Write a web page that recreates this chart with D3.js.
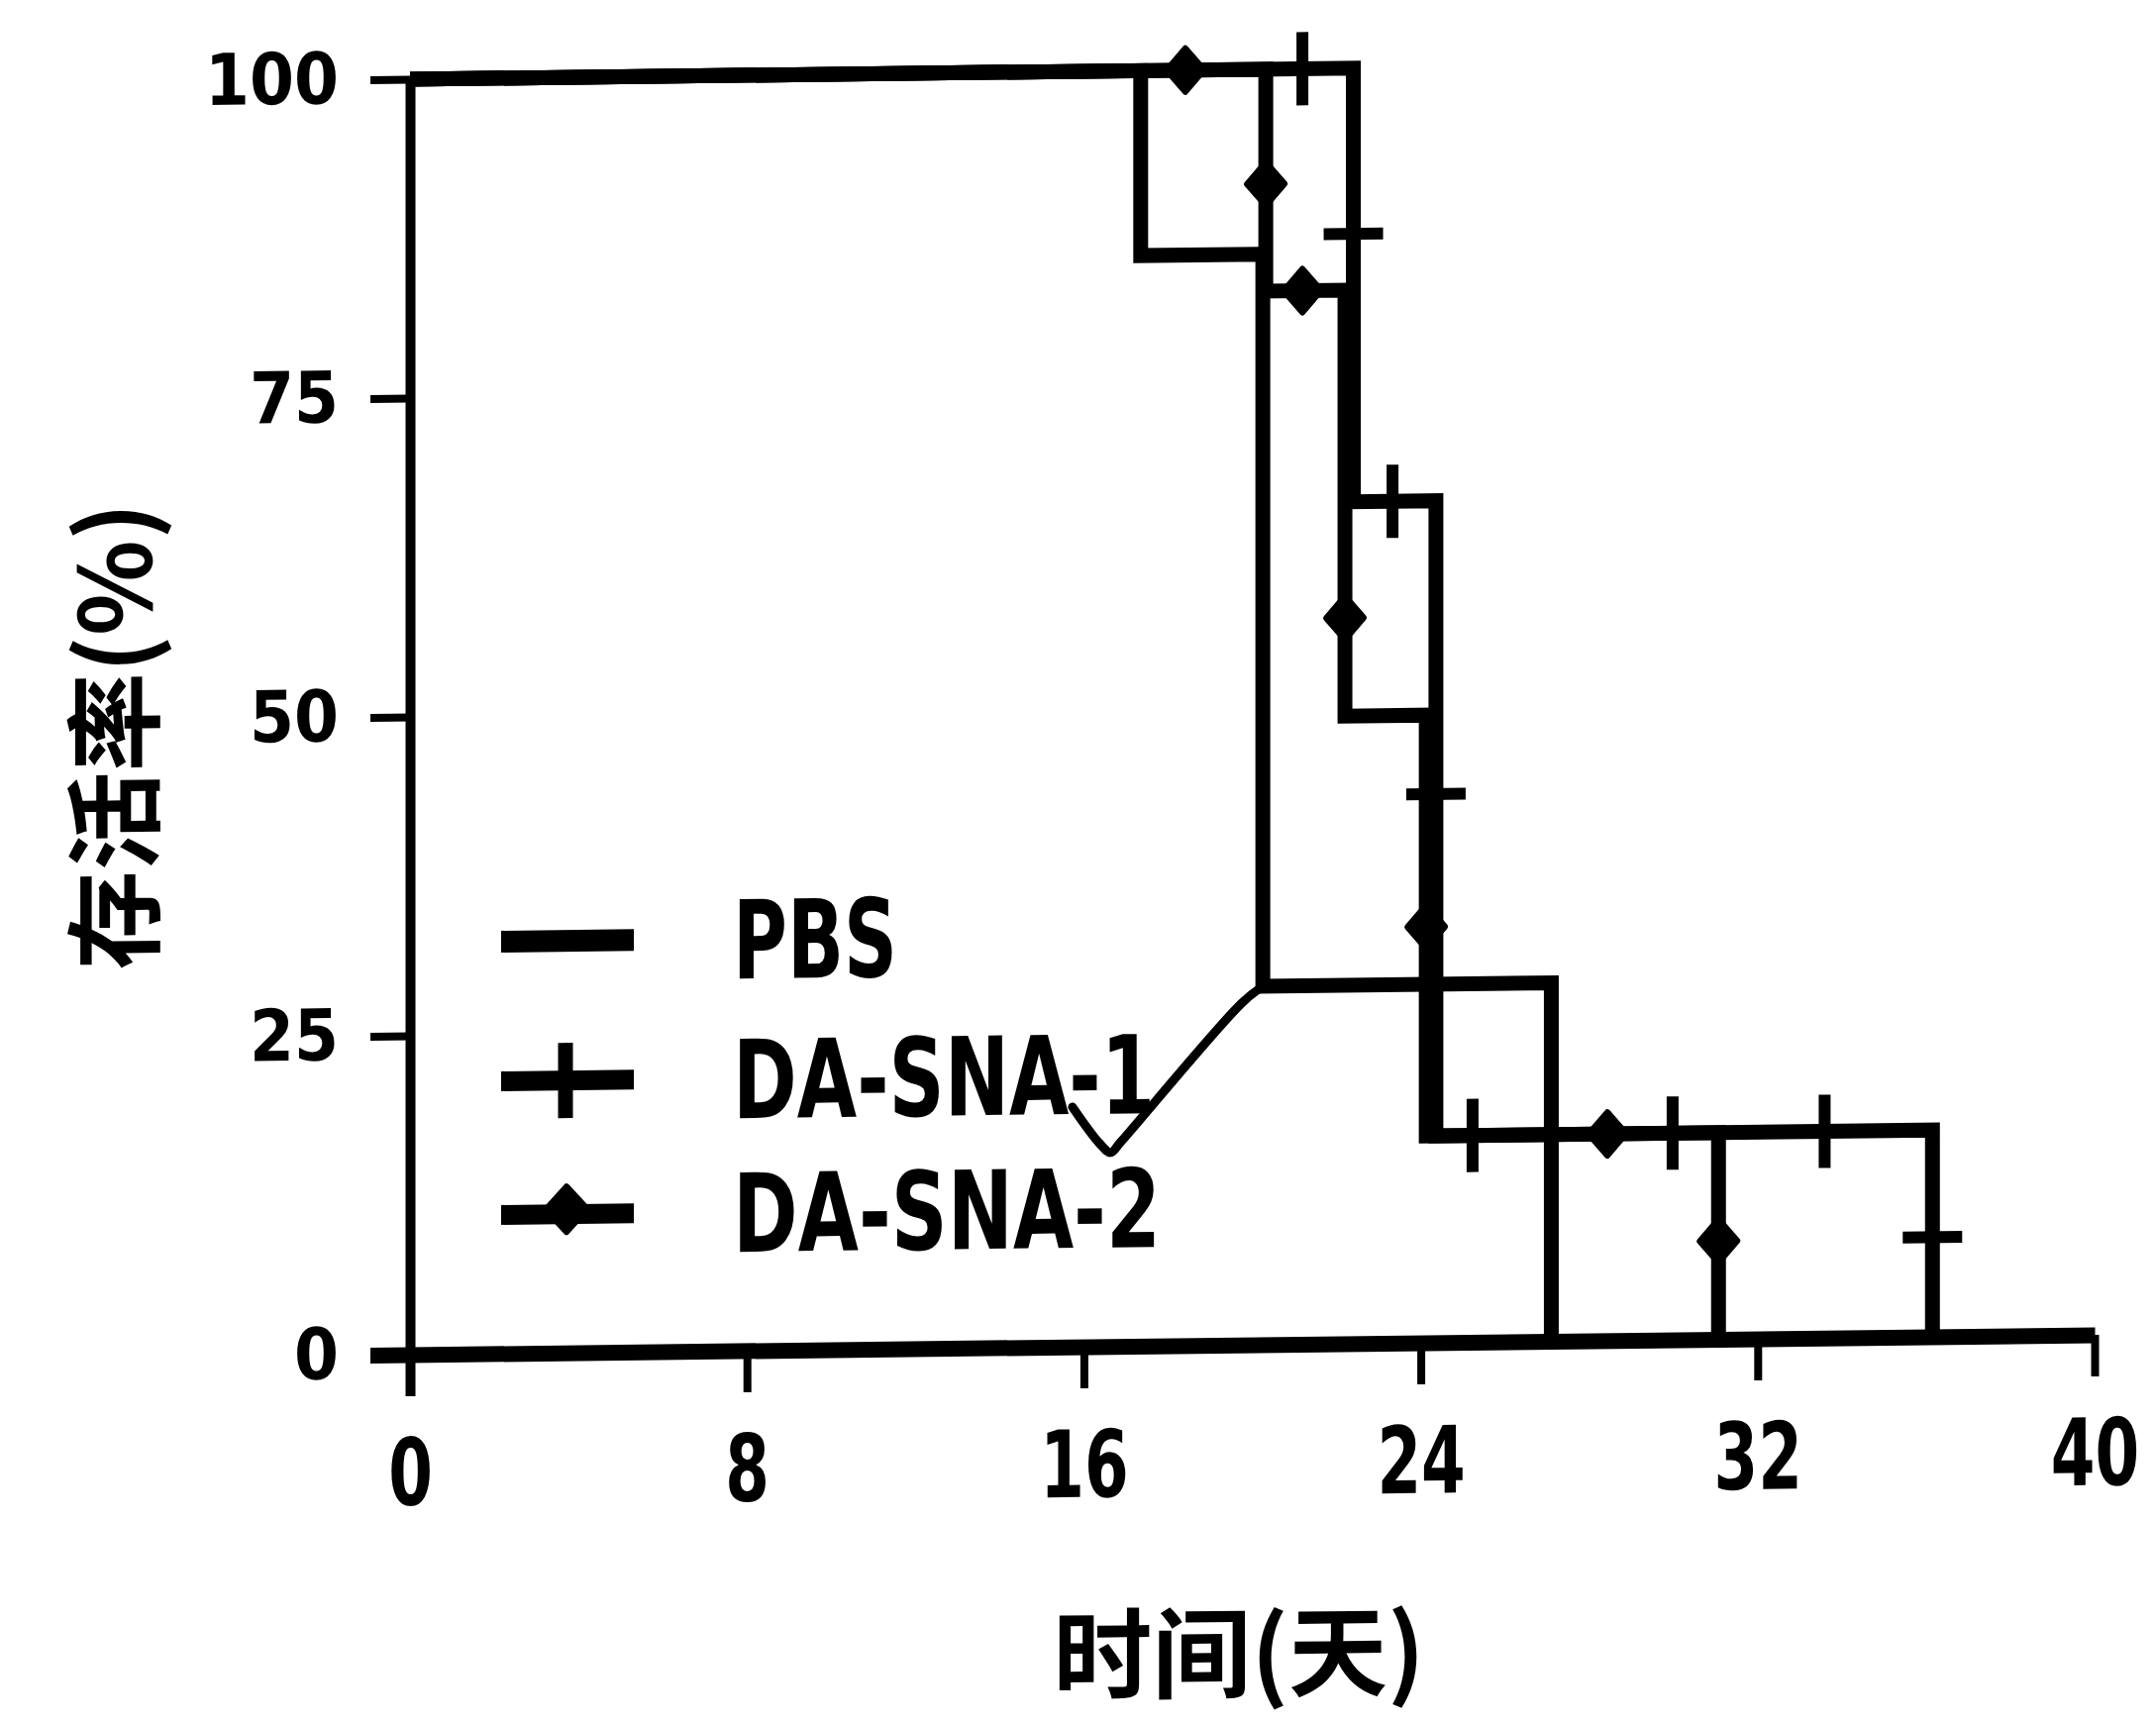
<!DOCTYPE html>
<html><head><meta charset="utf-8">
<script src="https://cdn.jsdelivr.net/npm/d3@7"></script>
<style>
html,body{margin:0;padding:0;background:#fff;}
svg{display:block;}
</style></head><body>
<svg id="chart" width="2177" height="1741"></svg>
<script>
// ---------- data (day, survival %) ----------
const seriesNames = ["PBS", "DA-SNA-1", "DA-SNA-2"];
const xTicks = [0, 8, 16, 24, 32, 40];
const yTicks = [0, 25, 50, 75, 100];
const xTitle = "时间(天)";
const yTitle = "存活率(%)";

const pbsSteps  = [[0, 100], [17.35, 85.5], [20.25, 28.1], [27.1, 0]];
const sna1Steps = [[0, 100], [22.4, 66.0], [24.36, 16.2], [36.15, 0]];
const sna2Steps = [[0, 100], [20.32, 82.6], [22.2, 49.2], [24.13, 16.2], [31.07, 0]];

const sna1Marks = [[21.19, 100], [22.4, 87.0], [23.33, 66.0], [24.36, 43.0], [25.23, 16.2], [29.98, 16.2], [33.59, 16.2], [36.15, 7.8]];
const sna2Marks = [[18.41, 100], [20.32, 91.0], [21.19, 82.6], [22.2, 56.9], [24.13, 32.6], [28.43, 16.2], [31.07, 7.7]];

// hand-drawn pen stroke present in the scanned figure
const penStroke = [[20.25, 28.1], [19.75, 26.8], [16.87, 16.0], [16.64, 15.2], [16.38, 15.9], [15.73, 18.8]];

// ---------- drawing ----------
const W = 2177, H = 1741;
const svg = d3.select("#chart");
svg.append("rect").attr("width", W).attr("height", H).attr("fill", "#fff");

const x = d3.scaleLinear().domain([0, 40]).range([414, 2115]);
const y = d3.scaleLinear().domain([0, 100]).range([1368, 80]);

// slight scan skew of the original figure
const g = svg.append("g").attr("transform", "translate(0,4.885) skewY(-0.676)");

const INK = "#000";
const CONDENSED = "'Liberation Sans Narrow', 'DejaVu Sans Condensed', 'DejaVu Sans', sans-serif";

// Y axis
const gy = g.append("g").attr("transform", `translate(${x(0)},0)`)
  .call(d3.axisLeft(y).tickValues(yTicks).tickSize(40).tickSizeOuter(0).tickPadding(32));
gy.select(".domain").attr("stroke", INK).attr("stroke-width", 10);
gy.selectAll(".tick line").attr("stroke", INK).attr("stroke-width", d => d === 0 ? 16 : 8);
gy.selectAll(".tick text").attr("fill", INK)
  .attr("font-family", "'DejaVu Sans', sans-serif").attr("font-weight", "bold").attr("font-size", 72)
  .attr("textLength", d => String(d).length * 45).attr("lengthAdjust", "spacingAndGlyphs");

// X axis
const gx = g.append("g").attr("transform", `translate(0,${y(0)})`)
  .call(d3.axisBottom(x).tickValues(xTicks).tickSize(42).tickSizeOuter(0).tickPadding(0));
gx.select(".domain").attr("stroke", INK).attr("stroke-width", 16);
gx.selectAll(".tick line").attr("stroke", INK).attr("stroke-width", d => d === 0 ? 10 : 8);
gx.selectAll(".tick text").attr("fill", INK)
  .attr("y", 0).attr("dy", "0.36em").attr("transform", "translate(0,118) scale(0.76,1)")
  .attr("font-family", CONDENSED).attr("font-weight", "bold").attr("font-size", 94);

// survival curves
const stepLine = d3.line().x(d => x(d[0])).y(d => y(d[1])).curve(d3.curveStepAfter);
[pbsSteps, sna1Steps, sna2Steps].forEach(s => {
  g.append("path").attr("d", stepLine(s)).attr("fill", "none")
    .attr("stroke", INK).attr("stroke-width", 15).attr("stroke-linejoin", "miter");
});

// pen stroke
g.append("path")
  .attr("d", d3.line().x(d => x(d[0])).y(d => y(d[1])).curve(d3.curveCatmullRom)(penStroke))
  .attr("fill", "none").attr("stroke", INK).attr("stroke-width", 9)
  .attr("stroke-linecap", "round").attr("stroke-linejoin", "round");

// markers
const plusPath = "M0,-37V37M-30,0H30";
const diamondPath = "M0,-22L19,0L0,22L-19,0Z";
g.append("g").selectAll("path").data(sna1Marks).join("path")
  .attr("transform", d => `translate(${x(d[0])},${y(d[1])})`)
  .attr("d", plusPath).attr("fill", "none").attr("stroke", INK).attr("stroke-width", 12);
g.append("g").selectAll("path").data(sna2Marks).join("path")
  .attr("transform", d => `translate(${x(d[0])},${y(d[1])})`)
  .attr("d", diamondPath).attr("fill", INK).attr("stroke", INK).attr("stroke-width", 6)
  .attr("stroke-linejoin", "round");

// legend
const legY = [952, 1093, 1228];
const legTextLen = [166, 426, 432];
const leg = g.append("g");
seriesNames.forEach((name, i) => {
  const cy = legY[i];
  leg.append("line").attr("x1", 506).attr("x2", 640).attr("y1", cy).attr("y2", cy)
    .attr("stroke", INK).attr("stroke-width", i === 0 ? 22 : 20);
  if (i === 1) {
    leg.append("path").attr("transform", `translate(571,${cy})`)
      .attr("d", "M0,-38V38").attr("stroke", INK).attr("stroke-width", 15);
  }
  if (i === 2) {
    leg.append("path").attr("transform", `translate(572,${cy - 5})`)
      .attr("d", "M0,-23L21,0L0,23L-21,0Z").attr("fill", INK).attr("stroke", INK)
      .attr("stroke-width", 6).attr("stroke-linejoin", "round");
  }
  leg.append("text").attr("x", 740).attr("y", cy + 40).text(name)
    .attr("font-family", CONDENSED).attr("font-weight", "bold").attr("font-size", 110).attr("fill", INK)
    .attr("textLength", legTextLen[i]).attr("lengthAdjust", "spacingAndGlyphs");
});

// axis titles
g.append("text").attr("transform", "translate(110,740) rotate(-90)")
  .attr("text-anchor", "middle").attr("dominant-baseline", "central")
  .attr("font-family", "'Noto Sans CJK SC', sans-serif").attr("font-weight", "bold")
  .attr("font-size", 100).attr("fill", INK).text(yTitle);
g.append("text").attr("x", 1251).attr("y", 1673)
  .attr("text-anchor", "middle").attr("dominant-baseline", "central")
  .attr("font-family", "'Noto Sans CJK SC', sans-serif").attr("font-weight", "bold")
  .attr("font-size", 100).attr("fill", INK).text(xTitle);
</script>
</body></html>
